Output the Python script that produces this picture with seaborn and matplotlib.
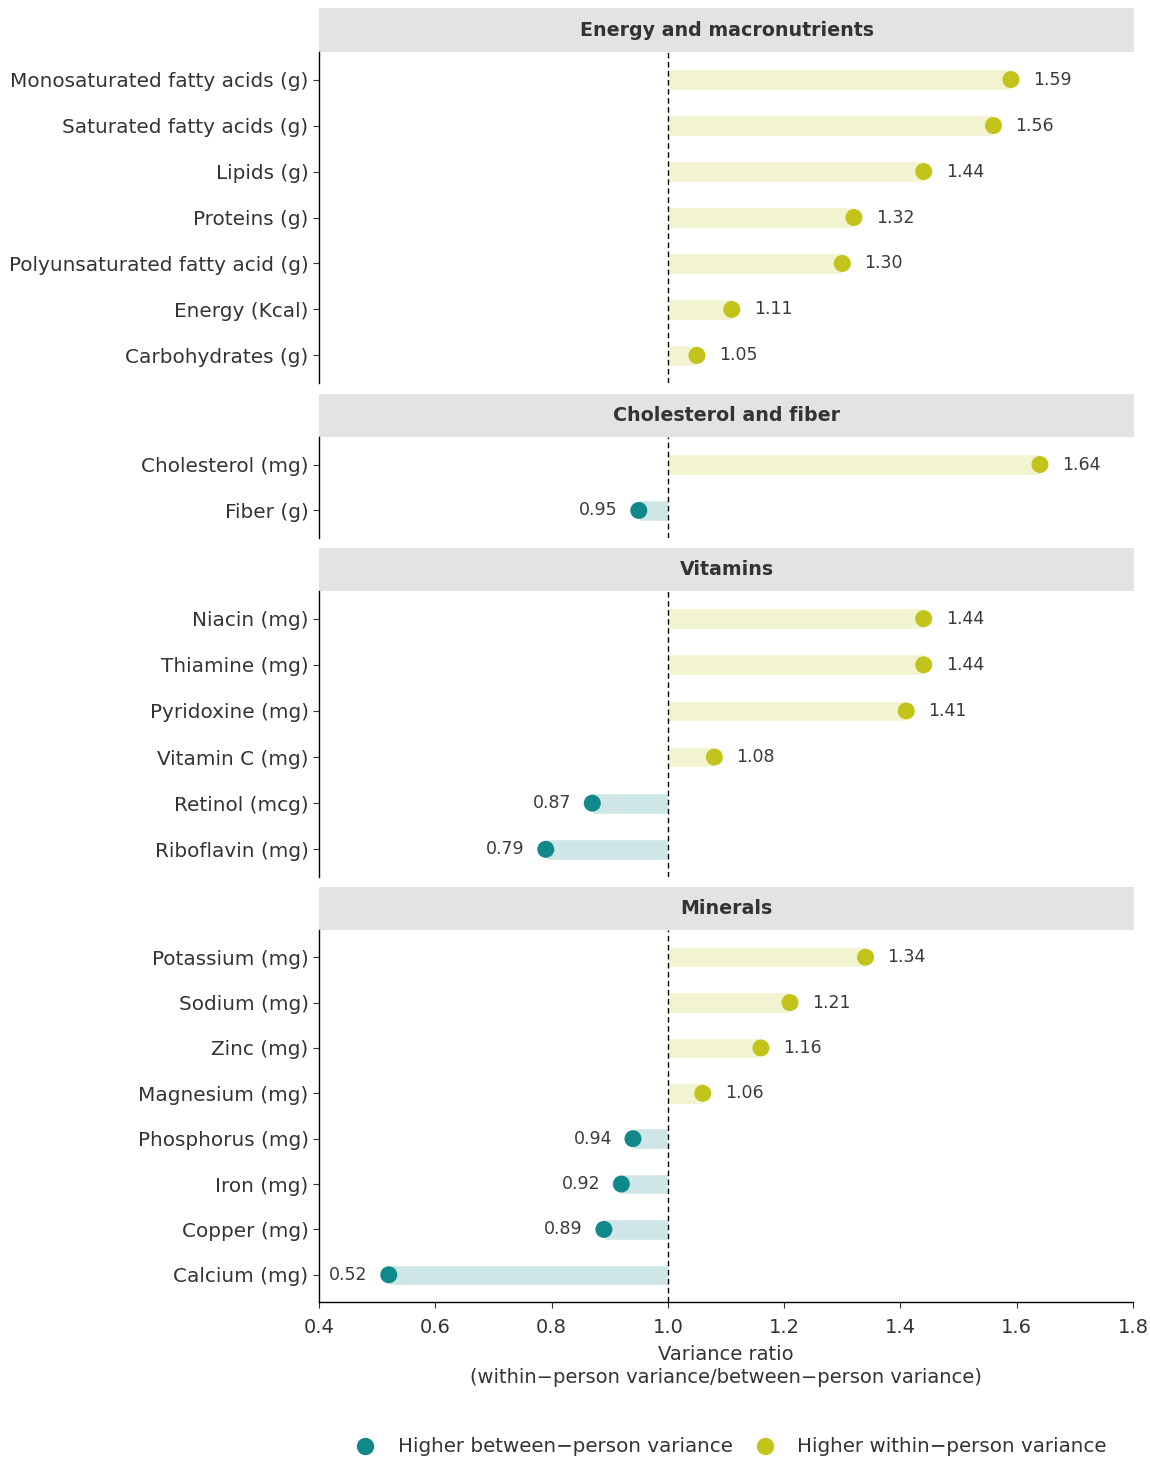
import matplotlib
matplotlib.use("Agg")
import matplotlib.pyplot as plt
import seaborn as sns
import pandas as pd
from matplotlib.lines import Line2D

# ---------------- data ----------------
panel_titles = ["Energy and macronutrients", "Cholesterol and fiber", "Vitamins", "Minerals"]

energy_nutrients = ["Monosaturated fatty acids (g)", "Saturated fatty acids (g)", "Lipids (g)",
                    "Proteins (g)", "Polyunsaturated fatty acid (g)", "Energy (Kcal)",
                    "Carbohydrates (g)"]
energy_values = [1.59, 1.56, 1.44, 1.32, 1.30, 1.11, 1.05]

chol_nutrients = ["Cholesterol (mg)", "Fiber (g)"]
chol_values = [1.64, 0.95]

vitamin_nutrients = ["Niacin (mg)", "Thiamine (mg)", "Pyridoxine (mg)", "Vitamin C (mg)",
                     "Retinol (mcg)", "Riboflavin (mg)"]
vitamin_values = [1.44, 1.44, 1.41, 1.08, 0.87, 0.79]

mineral_nutrients = ["Potassium (mg)", "Sodium (mg)", "Zinc (mg)", "Magnesium (mg)",
                     "Phosphorus (mg)", "Iron (mg)", "Copper (mg)", "Calcium (mg)"]
mineral_values = [1.34, 1.21, 1.16, 1.06, 0.94, 0.92, 0.89, 0.52]

x_ticks = [0.4, 0.6, 0.8, 1.0, 1.2, 1.4, 1.6, 1.8]
group_labels = ["Higher between\u2212person variance", "Higher within\u2212person variance"]
x_title = "Variance ratio\n(within\u2212person variance/between\u2212person variance)"

panel_data = [
    (energy_nutrients, energy_values),
    (chol_nutrients, chol_values),
    (vitamin_nutrients, vitamin_values),
    (mineral_nutrients, mineral_values),
]

# ---------------- style ----------------
sns.set_theme(style="white")
plt.rcParams["font.family"] = ["DejaVu Sans"]
TXT = "#333333"
dot_colors = {group_labels[0]: "#11888a", group_labels[1]: "#c2c41c"}
bar_colors = {group_labels[0]: "#cfe6e6", group_labels[1]: "#f2f3cf"}

W, H = 1150, 1463
fig = plt.figure(figsize=(W / 100, H / 100), dpi=100)

# (strip top, strip bottom/panel top, panel bottom) in pixels
layout = [(8, 52, 383), (394, 437, 538), (548, 591, 877), (887, 930, 1302)]
x0, x1 = 319, 1133

for i, (title, (names, vals)) in enumerate(zip(panel_titles, panel_data)):
    st, pt, pb = layout[i]
    # strip
    axs = fig.add_axes([x0 / W, 1 - pt / H, (1134 - x0) / W, (pt - st) / H])
    axs.set_facecolor("#e3e3e3")
    for s in axs.spines.values():
        s.set_visible(False)
    axs.set_xticks([])
    axs.set_yticks([])
    axs.text(0.5, 0.5, title, ha="center", va="center", fontsize=13.7,
             fontweight="bold", color=TXT, transform=axs.transAxes)

    ax = fig.add_axes([x0 / W, 1 - pb / H, (x1 - x0) / W, (pb - pt) / H])
    df = pd.DataFrame({"nutrient": names, "value": vals})
    df["pos"] = range(len(df))
    df["group"] = [group_labels[1] if v > 1 else group_labels[0] for v in df["value"]]

    ax.barh(df["pos"], df["value"] - 1.0, left=1.0, height=0.45,
            color=[bar_colors[g] for g in df["group"]], zorder=1)
    ax.axvline(1.0, color="black", lw=1.0, ls=(0, (4, 2.5)), zorder=2)
    sns.scatterplot(data=df, x="value", y="pos", hue="group", palette=dot_colors,
                    s=150, edgecolor="none", legend=False, ax=ax, zorder=3)

    for _, r in df.iterrows():
        if r["value"] > 1:
            ax.annotate(f"{r['value']:.2f}", (r["value"], r["pos"]), xytext=(22, 0),
                        textcoords="offset pixels", ha="left", va="center",
                        fontsize=12.5, color="#3a3a3a")
        else:
            ax.annotate(f"{r['value']:.2f}", (r["value"], r["pos"]), xytext=(-21, 0),
                        textcoords="offset pixels", ha="right", va="center",
                        fontsize=12.5, color="#3a3a3a")

    n = len(df)
    ax.set_ylim(n - 1 + 0.6, -0.6)
    ax.set_xlim(0.4, 1.8)
    ax.set_yticks(df["pos"])
    ax.set_yticklabels(df["nutrient"], fontsize=14.4, color=TXT)
    ax.set_ylabel("")
    ax.set_xlabel("")
    ax.tick_params(axis="y", left=True, length=4.5, width=0.8, color=TXT, pad=3)
    for s in ["top", "right"]:
        ax.spines[s].set_visible(False)
    ax.spines["left"].set_color("black")
    ax.spines["left"].set_linewidth(1.0)
    if i == len(panel_data) - 1:
        ax.spines["bottom"].set_color("black")
        ax.spines["bottom"].set_linewidth(1.0)
        ax.set_xticks(x_ticks)
        ax.set_xticklabels([f"{t:.1f}" for t in x_ticks], fontsize=14, color=TXT)
        ax.tick_params(axis="x", bottom=True, length=4.5, width=0.8, color=TXT, pad=7)
        ax.set_xlabel(x_title, fontsize=14, color=TXT, labelpad=6, linespacing=1.25)
    else:
        ax.spines["bottom"].set_visible(False)
        ax.set_xticks([])

handles = [Line2D([0], [0], marker="o", ls="none", markersize=12.5,
                  markerfacecolor=dot_colors[g], markeredgecolor="none", label=g)
           for g in group_labels]
fig.legend(handles=handles, loc="center", bbox_to_anchor=(731 / W, 1 - 1447 / H),
           ncol=2, frameon=False, fontsize=14.3, handlelength=1.0, handletextpad=1.15,
           columnspacing=1.1, labelcolor=TXT)

fig.savefig("out.png", dpi=100)
